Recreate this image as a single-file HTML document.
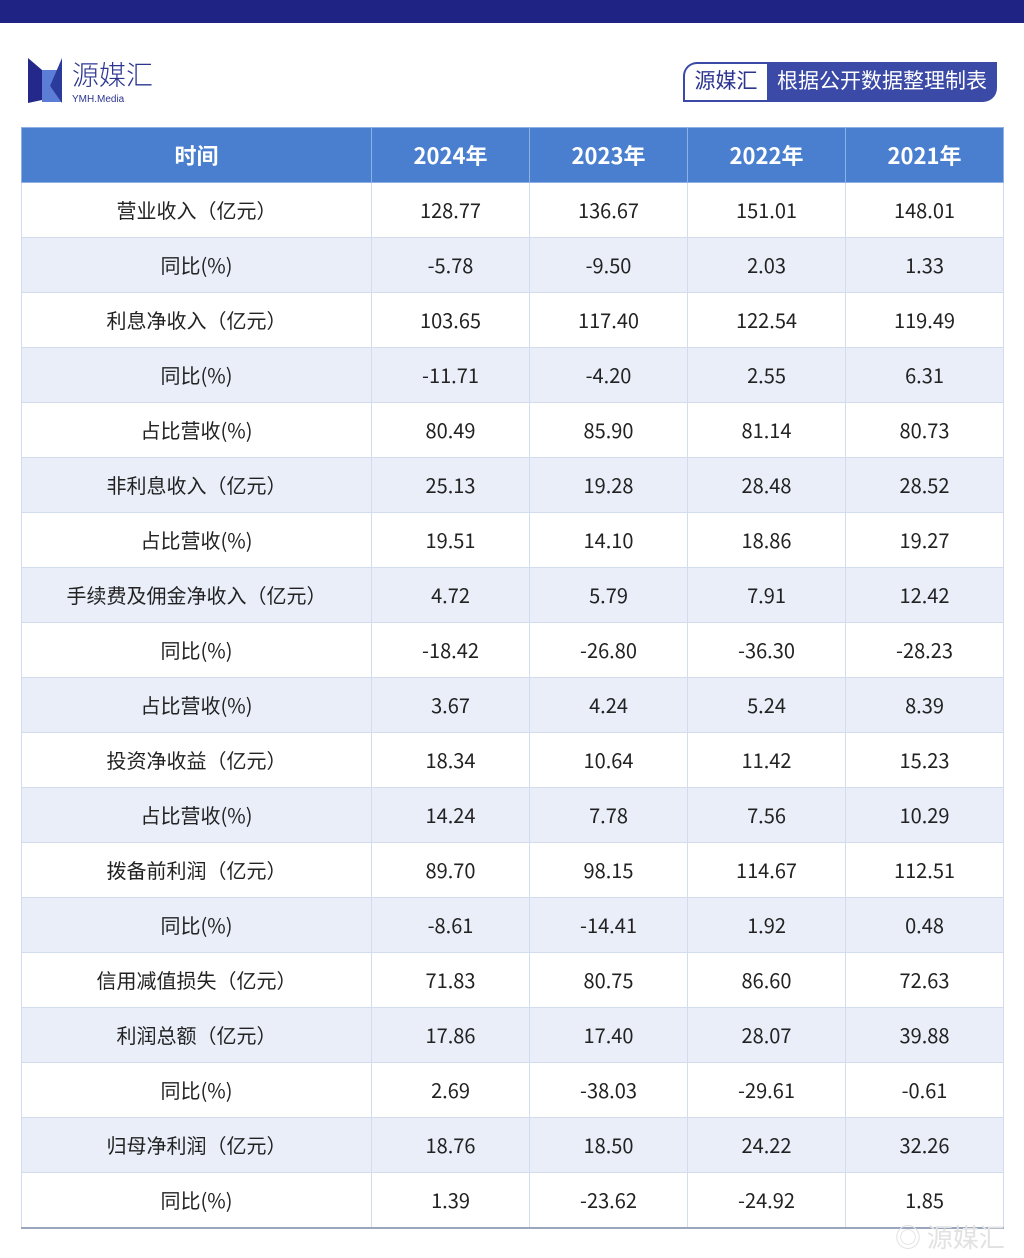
<!DOCTYPE html>
<html><head><meta charset="utf-8">
<style>
*{margin:0;padding:0;box-sizing:border-box}
body{width:1024px;height:1258px;background:#fff;position:relative;overflow:hidden;font-family:"Liberation Sans","Noto Sans CJK SC",sans-serif;color:#222}
#topbar{position:absolute;left:0;top:0;width:1024px;height:23px;background:#1f2384}
#logo{position:absolute;left:28px;top:56px;width:140px;height:50px}
#badge{position:absolute;left:683px;top:62px;width:314px;height:40px}
#badge .w{position:absolute;left:0;top:0;width:84px;height:40px;border:2px solid #3b4aa6;border-right:none;border-radius:14px 0 0 0;background:#fff;color:#2b3590;font-size:21px;line-height:36px;text-align:center}
#badge .b{position:absolute;left:84px;top:0;width:230px;height:40px;background:#3b4aa6;border-radius:0 0 14px 0;color:#fff;font-size:21px;line-height:40px;text-align:center}
table{position:absolute;left:21px;top:127px;width:982px;border-collapse:collapse;table-layout:fixed}
td,th{height:55px;text-align:center;font-size:20px;border:1px solid #d3dcec;font-weight:normal;font-family:"Noto Sans CJK SC",sans-serif;line-height:24px;vertical-align:middle;padding:0}
th{background:#4a7fd0;color:#fff;font-weight:bold;font-size:22px;border-color:#8fb0e4}
tr:nth-child(odd) td{background:#e9eef9}
tr:last-child td{border-bottom:2px solid #9aa6bd}
#wm{position:absolute;left:895px;top:1218px;font-size:26px;color:#e2e2e2;font-family:"Noto Sans CJK SC",sans-serif}
</style></head><body>
<div id="topbar"></div>
<div id="logo">
<svg width="40" height="50" style="position:absolute;left:0;top:0"><polygon points="0,2 14,14 14,44 0,47" fill="#23288a"/><polygon points="14,14 34,14 22,30 34,46 14,46" fill="#4a6fd0" opacity="0.9"/><polygon points="34,2 34,47 22,30" fill="#2a3b9c"/></svg>
<div style="position:absolute;left:44px;top:2px;font-size:27px;line-height:32px;color:#2b3590;font-family:'Noto Sans CJK SC',sans-serif;font-weight:300">源媒汇</div>
<div style="position:absolute;left:44px;top:38px;font-size:10px;line-height:12px;color:#2b3590">YMH.Media</div>
</div>
<div id="badge"><div class="w">源媒汇</div><div class="b">根据公开数据整理制表</div></div>
<table>
<colgroup><col style="width:350px"><col style="width:158px"><col style="width:158px"><col style="width:158px"><col style="width:158px"></colgroup>
<tbody id="tb"><tr><th>时间</th><th>2024年</th><th>2023年</th><th>2022年</th><th>2021年</th></tr></tbody>
</table>
<div id="wm">◎ 源媒汇</div>
<script>
const labels=["营业收入（亿元）","同比(%)","利息净收入（亿元）","同比(%)","占比营收(%)","非利息收入（亿元）","占比营收(%)","手续费及佣金净收入（亿元）","同比(%)","占比营收(%)","投资净收益（亿元）","占比营收(%)","拨备前利润（亿元）","同比(%)","信用减值损失（亿元）","利润总额（亿元）","同比(%)","归母净利润（亿元）","同比(%)"];
const y2024=["128.77","-5.78","103.65","-11.71","80.49","25.13","19.51","4.72","-18.42","3.67","18.34","14.24","89.70","-8.61","71.83","17.86","2.69","18.76","1.39"];
const y2023=["136.67","-9.50","117.40","-4.20","85.90","19.28","14.10","5.79","-26.80","4.24","10.64","7.78","98.15","-14.41","80.75","17.40","-38.03","18.50","-23.62"];
const y2022=["151.01","2.03","122.54","2.55","81.14","28.48","18.86","7.91","-36.30","5.24","11.42","7.56","114.67","1.92","86.60","28.07","-29.61","24.22","-24.92"];
const y2021=["148.01","1.33","119.49","6.31","80.73","28.52","19.27","12.42","-28.23","8.39","15.23","10.29","112.51","0.48","72.63","39.88","-0.61","32.26","1.85"];
const tb=document.getElementById('tb');
labels.forEach((l,i)=>{
const tr=document.createElement('tr');


[l,y2024[i],y2023[i],y2022[i],y2021[i]].forEach(v=>{
const td=document.createElement('td');


td.textContent=v;tr.appendChild(td);});
tb.appendChild(tr);});
</script>
</body></html>
